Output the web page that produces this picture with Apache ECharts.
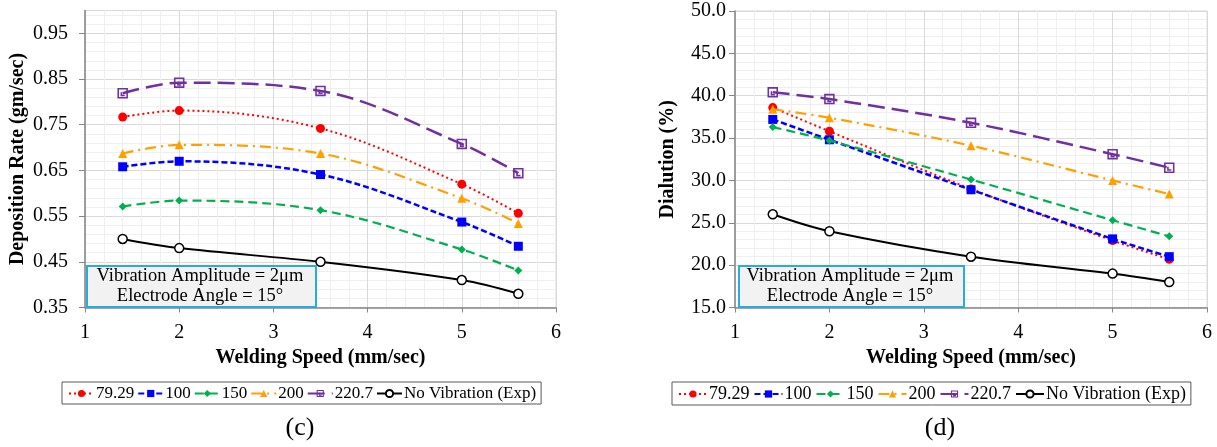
<!DOCTYPE html>
<html>
<head>
<meta charset="utf-8">
<script src="https://cdn.jsdelivr.net/npm/echarts@6/dist/echarts.min.js"></script>
<style>
  html, body { margin: 0; padding: 0; background: #ffffff; }
  #chart { width: 1217px; height: 447px; }
</style>
</head>
<body>
<div id="chart"></div>
<script>
// Welding speed (mm/sec) shared by both panels
const speed = [1.4, 2, 3.5, 5, 5.6];
const seriesNames = ['79.29', '100', '150', '200', '220.7', 'No Vibration (Exp)'];

// Panel (c): deposition rate (gm/sec)
const depRate79 = [0.767, 0.781, 0.742, 0.620, 0.556];
const depRate100 = [0.658, 0.670, 0.641, 0.537, 0.484];
const depRate150 = [0.571, 0.584, 0.563, 0.477, 0.431];
const depRate200 = [0.687, 0.706, 0.687, 0.589, 0.534];
const depRate2207 = [0.819, 0.842, 0.824, 0.708, 0.644];
const depRateNoVib = [0.50, 0.48, 0.45, 0.41, 0.38];

// Panel (d): dilution (%)
const dil79 = [38.6, 35.8, 29.0, 22.9, 20.7];
const dil100 = [37.2, 34.8, 28.9, 23.1, 21.0];
const dil150 = [36.3, 34.7, 30.1, 25.3, 23.4];
const dil200 = [38.4, 37.4, 34.1, 30.0, 28.4];
const dil2207 = [40.4, 39.6, 36.8, 33.1, 31.5];
const dilNoVib = [26.0, 24.0, 21.0, 19.0, 18.0];

// Axis tick settings
const depTicks = { min: 0.35, max: 1.0, step: 0.1 };
const dilTicks = { min: 15, max: 50, step: 5 };
const speedTicks = { min: 1, max: 6, step: 1 };

const FONT = "'Liberation Serif', 'Times New Roman', serif";

// Open square with an inner corner mark
const boxMark = 'path://M0,0 H10 V10 H0 Z M1.5,1.5 V8.5 H8.5 V1.5 Z M3,4 H4.5 V6.5 H7 V8 H3 Z';

const styles = [
  { color: '#ff0000', dash: [2, 3], width: 2, symbol: 'circle', size: 9 },
  { color: '#0000ff', dash: [6, 3], width: 2.5, symbol: 'rect', size: 9 },
  { color: '#00b050', dash: [9, 5], width: 2.2, symbol: 'diamond', size: 8 },
  { color: '#ffa000', dash: [11, 5, 2, 5], width: 2.2, symbol: 'triangle', size: 9 },
  { color: '#7030a0', dash: [17, 7], width: 2.5, symbol: boxMark, size: 10.5 },
  { color: '#000000', dash: 'solid', width: 2, symbol: 'circle', size: 9, hollow: true }
];

function makeSeries(valueSets, axisIndex) {
  return valueSets.map((vals, i) => {
    const s = styles[i];
    return {
      name: seriesNames[i],
      type: 'line',
      xAxisIndex: axisIndex,
      yAxisIndex: axisIndex * 2,
      data: speed.map((x, k) => [x, vals[k]]),
      smooth: 0.35,
      symbol: s.symbol,
      symbolSize: s.size,
      showSymbol: true,
      lineStyle: { color: s.color, width: s.width, type: s.dash },
      itemStyle: s.hollow
        ? { color: '#ffffff', borderColor: s.color, borderWidth: 1.5 }
        : { color: s.color, borderWidth: 0 },
      emphasis: { disabled: true },
      z: 3 + i
    };
  });
}

const titleStyle = { fontFamily: FONT, fontSize: 20, fontWeight: 'bold', color: '#000' };
const tickStyle = { fontFamily: FONT, fontSize: 20, color: '#000' };

function xAxisFor(gridIndex) {
  return {
    type: 'value', gridIndex: gridIndex,
    min: speedTicks.min, max: speedTicks.max, interval: speedTicks.step,
    name: 'Welding Speed (mm/sec)', nameLocation: 'middle', nameGap: 40,
    nameTextStyle: titleStyle,
    axisLine: { show: true, onZero: false, lineStyle: { color: '#868686', width: 1.5 } },
    axisTick: { show: true, inside: false, length: 5, lineStyle: { color: '#868686' } },
    axisLabel: Object.assign({ margin: 15 }, tickStyle),
    splitLine: { show: true, lineStyle: { color: '#d9d9d9', width: 1 } },
    minorTick: { show: false, splitNumber: 5 },
    minorSplitLine: { show: true, lineStyle: { color: '#efefef', width: 1 } }
  };
}

function legendFor(left, fontSize, itemWidth, gap) {
  return {
    left: left, top: 382,
    data: seriesNames,
    orient: 'horizontal',
    itemWidth: itemWidth, itemHeight: 9, itemGap: gap,
    padding: [3, 5, 2, 6],
    borderColor: '#595959', borderWidth: 1,
    textStyle: { fontFamily: FONT, fontSize: fontSize, color: '#000', padding: [0, 0, 0, -3] },
    selectedMode: false
  };
}

const option = {
  animation: false,
  backgroundColor: '#ffffff',
  grid: [
    { left: 85, top: 10.5, width: 471, height: 297, containLabel: false,
      show: true, borderColor: '#d9d9d9', borderWidth: 1, backgroundColor: 'transparent' },
    { left: 735, top: 11, width: 472, height: 296.5, containLabel: false,
      show: true, borderColor: '#d9d9d9', borderWidth: 1, backgroundColor: 'transparent' }
  ],
  xAxis: [xAxisFor(0), xAxisFor(1)],
  yAxis: [
    // (c) labelled axis
    {
      type: 'value', gridIndex: 0,
      min: depTicks.min, max: depTicks.max, interval: depTicks.step,
      name: 'Deposition Rate (gm/sec)', nameLocation: 'middle', nameGap: 57, nameRotate: 90,
      nameTextStyle: titleStyle,
      axisLine: { show: true, onZero: false, lineStyle: { color: '#868686', width: 1.5 } },
      axisTick: { show: true, length: 6, lineStyle: { color: '#868686' } },
      axisLabel: Object.assign({ margin: 17, showMaxLabel: false, formatter: v => v.toFixed(2) }, tickStyle),
      splitLine: { show: false }
    },
    // (c) grid lines every 0.01: major every 0.1, minor every 0.02
    {
      type: 'value', gridIndex: 0,
      min: depTicks.min, max: depTicks.max, interval: 0.01,
      axisLine: { show: false }, axisTick: { show: false }, axisLabel: { show: false },
      splitLine: { show: true, lineStyle: { width: 1,
        color: ['#d9d9d9', 'rgba(0,0,0,0)', '#efefef', 'rgba(0,0,0,0)', '#efefef',
                'rgba(0,0,0,0)', '#efefef', 'rgba(0,0,0,0)', '#efefef', 'rgba(0,0,0,0)'] } }
    },
    // (d) labelled axis with grid lines
    {
      type: 'value', gridIndex: 1,
      min: dilTicks.min, max: dilTicks.max, interval: dilTicks.step,
      name: 'Dialution (%)', nameLocation: 'middle', nameGap: 57, nameRotate: 90,
      nameTextStyle: titleStyle,
      axisLine: { show: true, onZero: false, lineStyle: { color: '#868686', width: 1.5 } },
      axisTick: { show: true, length: 6, lineStyle: { color: '#868686' } },
      axisLabel: Object.assign({ margin: 9, formatter: v => v.toFixed(1) }, tickStyle),
      splitLine: { show: true, lineStyle: { color: '#d9d9d9', width: 1 } },
      minorTick: { show: false, splitNumber: 5 },
      minorSplitLine: { show: true, lineStyle: { color: '#efefef', width: 1 } }
    }
  ],
  legend: [legendFor(62, 17, 25, 3), legendFor(672, 18, 28, 4)],
  graphic: [
    { type: 'rect', left: 86, top: 265, shape: { width: 229, height: 41 },
      style: { fill: '#f2f2f2', stroke: '#29abe2', lineWidth: 2 }, z: 100 },
    { type: 'text', x: 200, y: 276, style: { text: 'Vibration Amplitude = 2\u03bcm', fontFamily: FONT,
      fontSize: 18.5, fill: '#000', align: 'center', verticalAlign: 'middle' }, z: 101 },
    { type: 'text', x: 200, y: 296, style: { text: 'Electrode Angle = 15\u00b0', fontFamily: FONT,
      fontSize: 18.5, fill: '#000', align: 'center', verticalAlign: 'middle' }, z: 101 },
    { type: 'rect', left: 738, top: 265, shape: { width: 225, height: 41 },
      style: { fill: '#f2f2f2', stroke: '#29abe2', lineWidth: 2 }, z: 100 },
    { type: 'text', x: 850, y: 276, style: { text: 'Vibration Amplitude = 2\u03bcm', fontFamily: FONT,
      fontSize: 18.5, fill: '#000', align: 'center', verticalAlign: 'middle' }, z: 101 },
    { type: 'text', x: 850, y: 296, style: { text: 'Electrode Angle = 15\u00b0', fontFamily: FONT,
      fontSize: 18.5, fill: '#000', align: 'center', verticalAlign: 'middle' }, z: 101 },
    { type: 'text', x: 300, y: 428, style: { text: '(c)', fontFamily: FONT, fontSize: 26,
      fill: '#000', align: 'center', verticalAlign: 'middle' } },
    { type: 'text', x: 940, y: 428, style: { text: '(d)', fontFamily: FONT, fontSize: 26,
      fill: '#000', align: 'center', verticalAlign: 'middle' } }
  ],
  series: [
    ...makeSeries([depRate79, depRate100, depRate150, depRate200, depRate2207, depRateNoVib], 0),
    ...makeSeries([dil79, dil100, dil150, dil200, dil2207, dilNoVib], 1)
  ]
};

const chart = echarts.init(document.getElementById('chart'), null, { renderer: 'canvas' });
chart.setOption(option);
</script>
</body>
</html>
